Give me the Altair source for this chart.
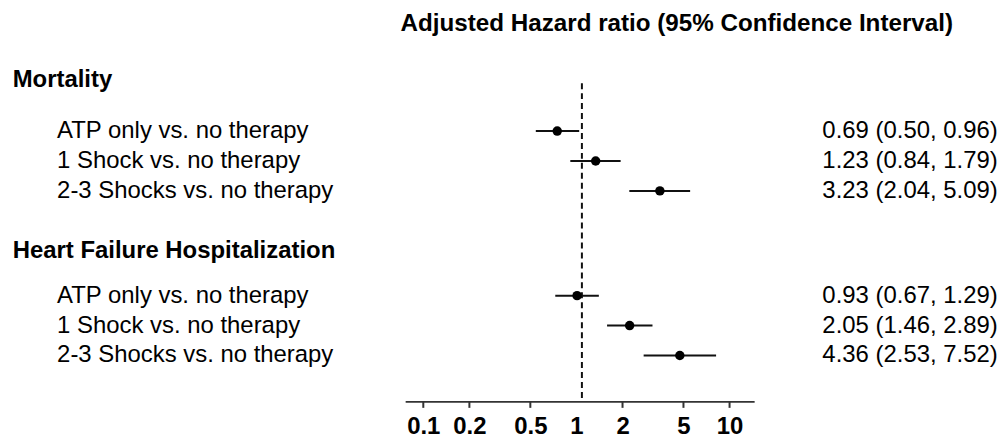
import altair as alt
import pandas as pd

# ---------------- data ----------------
groups = ["Mortality", "Heart Failure Hospitalization"]
comparisons = ["ATP only vs. no therapy", "1 Shock vs. no therapy", "2-3 Shocks vs. no therapy"]
hr_mortality = [0.69, 1.23, 3.23]
lo_mortality = [0.50, 0.84, 2.04]
hi_mortality = [0.96, 1.79, 5.09]
hr_hf = [0.93, 2.05, 4.36]
lo_hf = [0.67, 1.46, 2.53]
hi_hf = [1.29, 2.89, 7.52]
tick_values = [0.1, 0.2, 0.5, 1, 2, 5, 10]
axis_extent = [0.0767, 14.58]
reference_value = 1
title_text = "Adjusted Hazard ratio (95% Confidence Interval)"

# ---------------- layout (row units) ----------------
title_pos = 0.22
header_pos = [2.1, 7.8]
first_row_gap = [1.7, 1.5]
row_step = 1.0
axis_pos = 12.85
ref_top = 2.2
ROW_PX = 30.05

series = [(hr_mortality, lo_mortality, hi_mortality), (hr_hf, lo_hf, hi_hf)]
records = []
headers = []
for g, (hrs, los, his), hp, gap in zip(groups, series, header_pos, first_row_gap):
    headers.append({"text": g, "pos": hp})
    for i, (lab, h, l, u) in enumerate(zip(comparisons, hrs, los, his)):
        records.append({
            "group": g, "label": lab, "hr": h, "lo": l, "hi": u,
            "pos": hp + gap + i * row_step,
            "est": f"{h:.2f} ({l:.2f}, {u:.2f})",
        })
rows_df = pd.DataFrame(records)
hdr_df = pd.DataFrame(headers)
title_df = pd.DataFrame([{"text": title_text, "pos": title_pos}])
ref_df = pd.DataFrame([{"xv": reference_value, "ytop": ref_top, "ybot": axis_pos}])
tick_df = pd.DataFrame([{"v": v, "pos": axis_pos} for v in tick_values if v != reference_value])
axis_df = pd.DataFrame([{"a": axis_extent[0], "b": axis_extent[1], "pos": axis_pos}])

FONT = "Liberation Sans"
INK = "#111111"
AXC = "#333333"
XOFF = 5.5

# log scale spanning the whole plot width (153.75 px per decade)
xscale = alt.Scale(type="log", domain=[1.941e-4, 566.2], nice=False)
yscale = alt.Scale(domain=[0, axis_pos], reverse=True, nice=False, zero=False)

xaxis = alt.Axis(
    values=tick_values, format="~g", title=None, grid=False,
    domain=False, ticks=False,
    labelFont=FONT, labelFontSize=24, labelFontWeight="bold", labelColor="black",
    labelPadding=12.5, labelFlush=False, labelOverlap=False,
)

base = alt.Chart(rows_df)

axisline = alt.Chart(axis_df).mark_rule(strokeWidth=2, color=AXC).encode(
    x=alt.X("a:Q", scale=xscale, axis=xaxis),
    x2="b:Q",
    y=alt.Y("pos:Q", scale=yscale, axis=None),
)
ticks = alt.Chart(tick_df).mark_rule(strokeWidth=2, color=AXC, y2Offset=6).encode(
    x="v:Q", y="pos:Q", y2="pos:Q"
)
ci = base.mark_rule(strokeWidth=2, color=INK, xOffset=XOFF, x2Offset=XOFF).encode(
    x="lo:Q", x2="hi:Q", y="pos:Q"
)
pts = base.mark_circle(size=90, color="black", opacity=1, xOffset=XOFF).encode(
    x="hr:Q", y="pos:Q"
)
ref = alt.Chart(ref_df).mark_rule(strokeDash=[6, 4], strokeWidth=2, color=INK, xOffset=XOFF).encode(
    x="xv:Q", y="ytop:Q", y2="ybot:Q"
)
labels = base.mark_text(align="left", baseline="middle", fontSize=24, font=FONT, color="black").encode(
    x=alt.value(49.3), y="pos:Q", text="label:N"
)
ests = base.mark_text(align="right", baseline="middle", fontSize=24, font=FONT, color="black").encode(
    x=alt.value(993.7), y="pos:Q", text="est:N"
)
hdrs = alt.Chart(hdr_df).mark_text(align="left", baseline="middle", fontSize=24, font=FONT,
                                   fontWeight="bold", color="black").encode(
    x=alt.value(4.7), y="pos:Q", text="text:N"
)
ttl = alt.Chart(title_df).mark_text(align="center", baseline="middle", fontSize=24.3, font=FONT,
                                    fontWeight="bold", color="black").encode(
    x=alt.value(671.5), y="pos:Q", text="text:N"
)

chart = alt.layer(axisline, ticks, ref, ci, pts, labels, ests, hdrs, ttl).properties(
    width=994,
    height=round(axis_pos * ROW_PX, 1),
    autosize=alt.AutoSizeParams(type="none"),
    padding={"top": 8.5, "left": 0, "right": 0, "bottom": 37},
    background="white",
).configure_view(stroke=None)

chart.save("out.html", embed_options={"renderer": "svg", "actions": False})
